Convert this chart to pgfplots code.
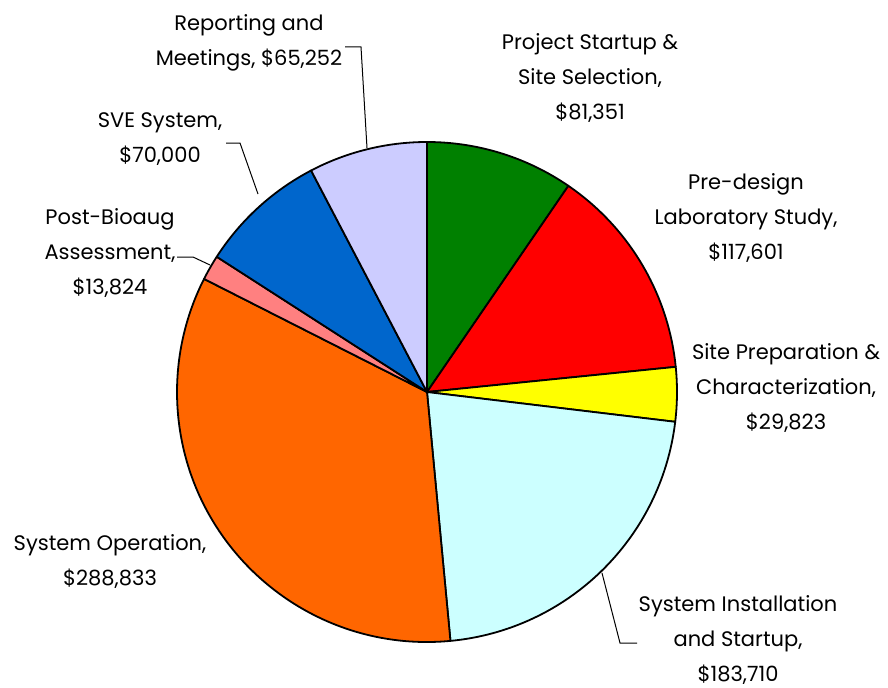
\documentclass[border=0pt]{standalone}
\usepackage{pgfplots}
\pgfplotsset{compat=1.18}
\usepackage{pgfplotstable}
\usepackage{fontspec}
\setmainfont{Poppins}

\definecolor{slA}{HTML}{008000}
\definecolor{slB}{HTML}{FF0000}
\definecolor{slC}{HTML}{FFFF00}
\definecolor{slD}{HTML}{CCFFFF}
\definecolor{slE}{HTML}{FF6600}
\definecolor{slF}{HTML}{FF8080}
\definecolor{slG}{HTML}{0066CC}
\definecolor{slH}{HTML}{CCCCFF}

% cost items, clockwise from 12 o'clock
\pgfplotstableread{
value  color
81351  slA
117601 slB
29823  slC
183710 slD
288833 slE
13824  slF
70000  slG
65252  slH
}\piedata

\begin{document}
\begin{tikzpicture}
\begin{axis}[
  width=444pt, height=343.5pt,
  scale only axis,
  hide axis,
  xmin=0, xmax=888, ymin=0, ymax=687,
  clip=false,
]
\path (axis cs:0,0) (axis cs:888,687);
\pgfplotsextra{
  \xdef\total{0}
  \foreach \i in {0,...,7}{
    \pgfplotstablegetelem{\i}{value}\of\piedata
    \xdef\total{\fpeval{\total+\pgfplotsretval}}
  }
  \xdef\cur{90}
  \foreach \i in {0,...,7}{
    \pgfplotstablegetelem{\i}{value}\of\piedata \let\v\pgfplotsretval
    \pgfplotstablegetelem{\i}{color}\of\piedata \let\c\pgfplotsretval
    \edef\e{\fpeval{\cur-360*\v/\total}}
    \filldraw[fill=\c, draw=black, line width=0.9pt, line join=round]
      (axis cs:427,295) -- ++(\cur:125pt) arc[start angle=\cur, end angle=\e, radius=125pt] -- cycle;
    \xdef\cur{\e}
  }
}
% leader lines
\draw[line width=0.5pt] (axis cs:345,640) -- (axis cs:361,640) -- (axis cs:367,539);
\draw[line width=0.5pt] (axis cs:226,544) -- (axis cs:240,544) -- (axis cs:258,493);
\draw[line width=0.5pt] (axis cs:177,430) -- (axis cs:193,430) -- (axis cs:210,422);
\draw[line width=0.5pt] (axis cs:602,114) -- (axis cs:620,44) -- (axis cs:637,44);
% labels
\tikzset{lbl/.style={align=center, inner sep=0pt, font=\fontsize{10.5}{17.5}\selectfont}}
\node[lbl] at (axis cs:590,609) {Project Startup \&\\Site Selection,\\\$81,351};
\node[lbl] at (axis cs:746,469) {Pre-design\\Laboratory Study,\\\$117,601};
\node[lbl] at (axis cs:786,299) {Site Preparation \&\\Characterization,\\\$29,823};
\node[lbl] at (axis cs:738,47) {System Installation\\and Startup,\\\$183,710};
\node[lbl] at (axis cs:110,125) {System Operation,\\\$288,833};
\node[lbl] at (axis cs:110,434) {Post-Bioaug\\Assessment,\\\$13,824};
\node[lbl] at (axis cs:160,547.5) {SVE System,\\\$70,000};
\node[lbl] at (axis cs:249,644.5) {Reporting and\\Meetings, \$65,252};
\end{axis}
\end{tikzpicture}
\end{document}
